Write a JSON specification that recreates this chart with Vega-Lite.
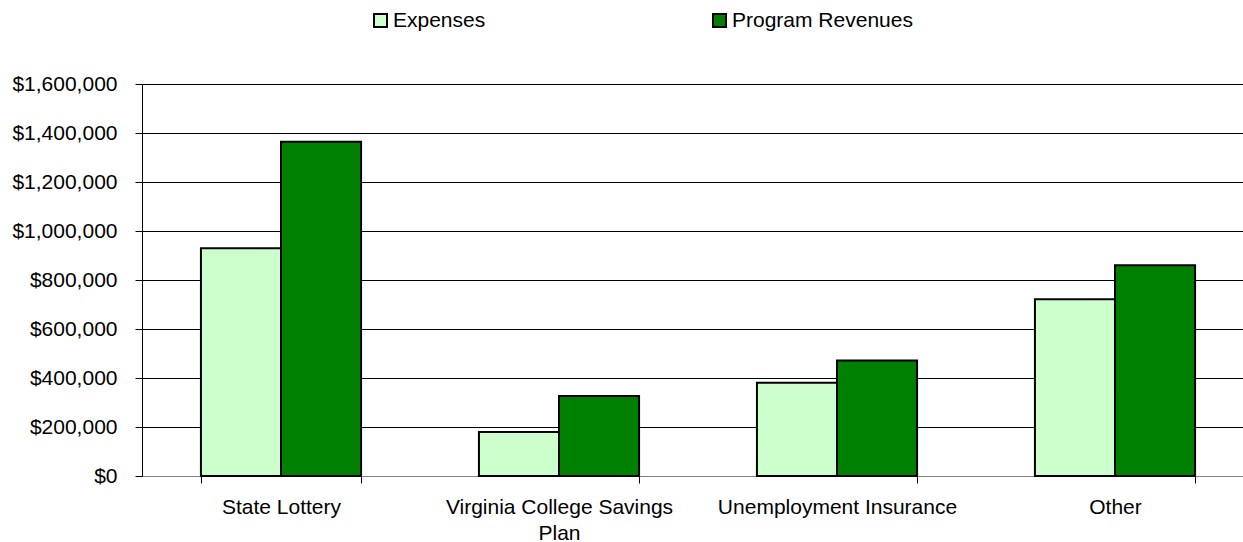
{
  "$schema": "https://vega.github.io/schema/vega-lite/v6.json",
  "autosize": {"type": "none"},
  "padding": {"left": 142, "top": 84, "right": 0, "bottom": 66},
  "width": 1101,
  "height": 392,
  "background": "white",
  "config": {
    "view": {"stroke": null},
    "font": "Liberation Sans",
    "axis": {"labelFont": "Liberation Sans", "labelColor": "black", "labelLimit": 0},
    "legend": {"labelFont": "Liberation Sans", "labelColor": "black", "labelLimit": 0}
  },
  "data": {
    "values": [
      {"category": "State Lottery", "type": "Expenses", "value": 930000},
      {"category": "State Lottery", "type": "Program Revenues", "value": 1364000},
      {"category": "Virginia College Savings Plan", "type": "Expenses", "value": 180000},
      {"category": "Virginia College Savings Plan", "type": "Program Revenues", "value": 327000},
      {"category": "Unemployment Insurance", "type": "Expenses", "value": 381000},
      {"category": "Unemployment Insurance", "type": "Program Revenues", "value": 471000},
      {"category": "Other", "type": "Expenses", "value": 721000},
      {"category": "Other", "type": "Program Revenues", "value": 860000}
    ]
  },
  "mark": {"type": "bar", "stroke": "black", "strokeWidth": 2},
  "encoding": {
    "x": {
      "field": "category",
      "type": "nominal",
      "sort": null,
      "scale": {"range": [0, 1112], "paddingInner": 0.424, "paddingOuter": 0.212},
      "axis": {
        "title": null,
        "labelAngle": 0,
        "labelLimit": 0,
        "tickBand": "extent",
        "tickSize": 7,
        "tickColor": "black",
        "domainColor": "#808080",
        "labelFontSize": 21,
        "labelPadding": 13,
        "labelLineHeight": 26,
        "labelExpr": "datum.label == 'Virginia College Savings Plan' ? ['Virginia College Savings', 'Plan'] : datum.label"
      }
    },
    "xOffset": {"field": "type", "type": "nominal", "scale": {"paddingInner": 0, "paddingOuter": 0}},
    "y": {
      "field": "value",
      "type": "quantitative",
      "scale": {"domain": [0, 1600000], "nice": false},
      "axis": {
        "title": null,
        "values": [0, 200000, 400000, 600000, 800000, 1000000, 1200000, 1400000, 1600000],
        "format": "$,d",
        "tickSize": 7,
        "tickColor": "black",
        "domainColor": "black",
        "gridColor": "black",
        "gridWidth": 1,
        "labelFontSize": 21,
        "labelPadding": 18
      }
    },
    "color": {
      "field": "type",
      "type": "nominal",
      "scale": {"domain": ["Expenses", "Program Revenues"], "range": ["#CCFFCC", "#008000"]},
      "legend": {
        "title": null,
        "orient": "none",
        "direction": "horizontal",
        "legendX": 228,
        "legendY": -74,
        "symbolType": "square",
        "symbolSize": 169,
        "symbolStrokeColor": "black",
        "symbolStrokeWidth": 2,
        "labelFontSize": 21,
        "labelLimit": 0,
        "labelOffset": 2,
        "columnPadding": 223
      }
    }
  }
}
